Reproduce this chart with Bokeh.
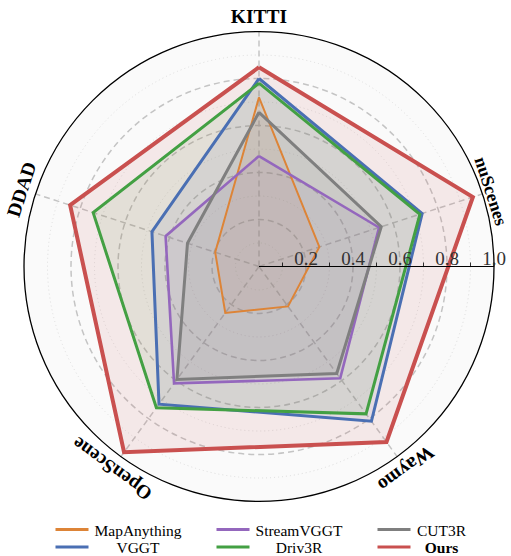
import numpy as np
from bokeh.plotting import figure
from bokeh.models import Range1d, ColumnDataSource
from bokeh.core.properties import value
from bokeh.embed import file_html
from bokeh.resources import INLINE

# ---------------- data ----------------
categories = ["KITTI", "nuScenes", "Waymo", "OpenScene", "DDAD"]
angles_deg = [90, 18, -54, -126, 162]

series_names = ["MapAnything", "StreamVGGT", "CUT3R", "VGGT", "Driv3R", "Ours"]
map_anything = [0.72, 0.27, 0.21, 0.244, 0.196]
stream_vggt = [0.47, 0.537, 0.588, 0.615, 0.418]
cut3r = [0.656, 0.547, 0.563, 0.594, 0.32]
vggt = [0.80, 0.73, 0.814, 0.724, 0.479]
driv3r = [0.78, 0.72, 0.775, 0.743, 0.742]
ours = [0.848, 0.957, 0.923, 0.977, 0.845]
series_values = [map_anything, stream_vggt, cut3r, vggt, driv3r, ours]

radial_ticks = [0.2, 0.4, 0.6, 0.8, 1.0]
radial_tick_labels = ["0.2", "0.4", "0.6", "0.8", "1.0"]
minor_circles = [0.1, 0.3, 0.5, 0.7, 0.9]
tick_marks = [0.1, 0.3, 0.5, 0.7, 0.9, 1.0]

# ---------------- style ----------------
colors = ["#dd8437", "#9467bd", "#7f7f7f", "#4a6fb3", "#43a043", "#c9504f"]
widths = [2.0, 2.6, 3.0, 3.0, 3.0, 4.0]
label_radius = [1.062, 1.038, 1.064, 1.064, 1.062]
label_sizes = ["19.5px", "18px", "19.5px", "19.5px", "19.5px"]
SERIF = value("Liberation Serif")

# pixel geometry (page coords) -> data coords
CX, CY, R = 258.5, 266.0, 235.0
W, H = 511, 556


def px(x, y):
    return (x - CX) / R, (CY - y) / R


x0, y0 = px(0, 0)
x1, y1 = px(W, H)

p = figure(width=W, height=H, output_backend="svg", toolbar_location=None,
           x_range=Range1d(x0, x1), y_range=Range1d(y1, y0),
           min_border=0, outline_line_color=None,
           background_fill_color="white", border_fill_color="white")
p.axis.visible = False
p.grid.visible = False

th = np.deg2rad(np.array(angles_deg, dtype=float))

# polar background
p.circle(x=[0], y=[0], radius=1.0, fill_color="#fafafa", line_color=None)

# minor dotted circles
p.circle(x=[0] * len(minor_circles), y=[0] * len(minor_circles), radius=minor_circles,
         fill_color=None, line_color="#dcdcdc", line_width=1.0, line_dash="1 3")
# major dashed circles
p.circle(x=[0] * 4, y=[0] * 4, radius=radial_ticks[:4],
         fill_color=None, line_color="#c4c4c4", line_width=1.5, line_dash="6 4")
# spokes
p.segment(x0=[0] * 5, y0=[0] * 5, x1=list(np.cos(th)), y1=list(np.sin(th)),
          line_color="#c4c4c4", line_width=1.5, line_dash="6 4")

# series fills then lines
for name, vals, col in zip(series_names, series_values, colors):
    r = np.array(vals)
    p.patch(list(r * np.cos(th)), list(r * np.sin(th)),
            fill_color=col, fill_alpha=0.10, line_color=None)
for name, vals, col, lw in zip(series_names, series_values, colors, widths):
    r = np.array(vals)
    xs = list(r * np.cos(th)) + [r[0] * np.cos(th[0])]
    ys = list(r * np.sin(th)) + [r[0] * np.sin(th[0])]
    p.line(xs, ys, line_color=col, line_width=lw, line_join="miter")

# outer circle
p.circle(x=[0], y=[0], radius=1.0, fill_color=None, line_color="black", line_width=1.3)

# radial axis line with ticks and labels
p.segment(x0=[0], y0=[0], x1=[1.0], y1=[0], line_color="black", line_width=1.0)
p.segment(x0=tick_marks, y0=[0] * len(tick_marks), x1=tick_marks,
          y1=[4 / R] * len(tick_marks), line_color="black", line_width=0.8)
p.text(x=radial_ticks, y=[8 / R] * len(radial_ticks), text=radial_tick_labels,
       text_align="center", text_baseline="alphabetic", text_font=SERIF,
       text_font_size="19px", text_color="#333333")

# category labels
lr = np.array(label_radius)
lab_src = ColumnDataSource(dict(
    x=list(lr * np.cos(th)), y=list(lr * np.sin(th)), text=categories,
    angle=list(th - np.pi / 2), size=label_sizes))
p.text(x="x", y="y", text="text", angle="angle", text_font_size="size",
       source=lab_src, text_align="center", text_baseline="middle",
       text_font=SERIF, text_font_style="bold", text_color="black")

# legend (3 columns x 2 rows), drawn manually
col_line_x = [(55, 88), (216, 249), (377, 410)]
col_text_cx = [137.5, 298.5, 441.0]
row_y = [529.0, 546.5]
for i, (name, col) in enumerate(zip(series_names, colors)):
    c, rr = i % 3, i // 3
    (lx0, ly), (lx1, _) = px(col_line_x[c][0], row_y[rr]), px(col_line_x[c][1], row_y[rr])
    p.segment(x0=[lx0], y0=[ly], x1=[lx1], y1=[ly], line_color=col, line_width=3.2)
    tx, ty = px(col_text_cx[c], row_y[rr] + 0.5)
    p.text(x=[tx], y=[ty], text=[name], text_align="center", text_baseline="middle",
           text_font=SERIF, text_font_size="15.5px",
           text_font_style="bold" if name == "Ours" else "normal", text_color="black")

open("out.html", "w").write(file_html(p, INLINE))
